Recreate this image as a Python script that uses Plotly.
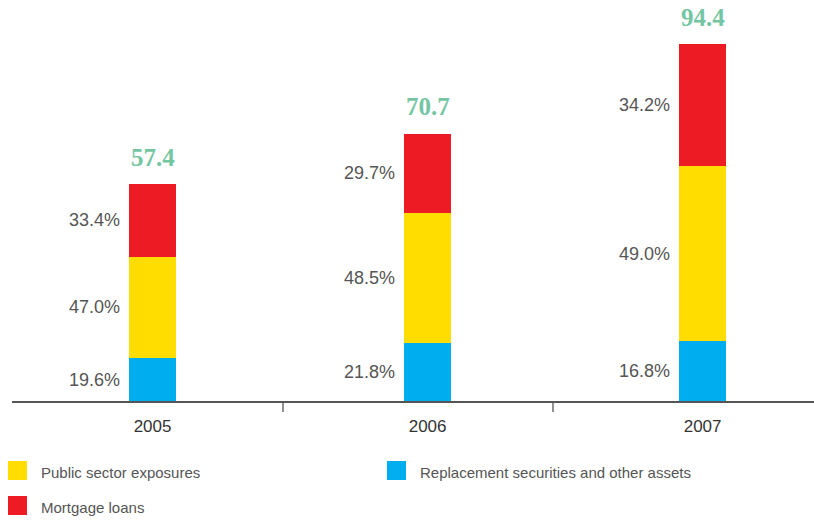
import plotly.graph_objects as go

# Cover pool composition by year (EUR bn totals, shares in %)
years = ["2005", "2006", "2007"]
totals = [57.4, 70.7, 94.4]
share_replacement = [19.6, 21.8, 16.8]
share_public = [47.0, 48.5, 49.0]
share_mortgage = [33.4, 29.7, 34.2]

series = [
    ("Replacement securities and other assets", share_replacement, "#00AEEF"),
    ("Public sector exposures", share_public, "#FFDD00"),
    ("Mortgage loans", share_mortgage, "#ED1C24"),
]

TEXT = "#555555"
SANS = "Liberation Sans, Arial, sans-serif"
BAR_W = 0.171

fig = go.Figure()
xs = list(range(len(years)))
for name, shares, color in series:
    vals = [t * s / 100 for t, s in zip(totals, shares)]
    fig.add_trace(go.Bar(
        x=xs, y=vals, name=name, width=BAR_W,
        marker=dict(color=color, line=dict(width=0)),
        showlegend=False,
    ))

annotations = []
# percentage labels to the left of each segment
for i, t in enumerate(totals):
    base = 0.0
    for name, shares, color in series:
        v = t * shares[i] / 100
        annotations.append(dict(
            x=i, y=base + v / 2, xref="x", yref="y",
            text=f"{shares[i]:.1f}%", showarrow=False,
            xanchor="right", yanchor="middle", xshift=-31,
            font=dict(family=SANS, size=18, color=TEXT),
        ))
        base += v
    # total above the bar
    annotations.append(dict(
        x=i, y=t, xref="x", yref="y", text=f"<b>{t:.1f}</b>",
        showarrow=False, xanchor="center", yanchor="middle", yshift=27,
        font=dict(family="Liberation Serif, DejaVu Serif, serif", size=25,
                  color="#74C6A3"),
    ))

# legend drawn as swatches and labels
legend_items = [
    ("Public sector exposures", "#FFDD00", 8, 461),
    ("Replacement securities and other assets", "#00AEEF", 387, 461),
    ("Mortgage loans", "#ED1C24", 8, 496),
]
W, H = 814, 524
shapes = []
for label, color, px, py in legend_items:
    shapes.append(dict(
        type="rect", xref="paper", yref="paper",
        x0=(px - 12) / 802, x1=(px + 19 - 12) / 802,
        y0=-(py + 19 - 401) / 378, y1=-(py - 401) / 378,
        fillcolor=color, line=dict(width=0),
    ))
    annotations.append(dict(
        x=(px + 31 - 12) / 802, y=-(py + 11 - 401) / 378,
        xref="paper", yref="paper", text=label, showarrow=False,
        xanchor="left", yanchor="middle",
        font=dict(family=SANS, size=15, color=TEXT),
    ))

# category divider ticks under the baseline
for px in (283, 553):
    shapes.append(dict(
        type="line", xref="paper", yref="paper",
        x0=(px - 12) / 802, x1=(px - 12) / 802,
        y0=0, y1=-11 / 378,
        line=dict(color=TEXT, width=1.3),
    ))

fig.update_layout(
    width=W, height=H,
    margin=dict(l=12, r=0, t=23, b=123),
    barmode="stack",
    plot_bgcolor="white", paper_bgcolor="white",
    annotations=annotations, shapes=shapes,
    xaxis=dict(
        range=[-0.511, 2.405], tickmode="array", tickvals=xs, ticktext=years,
        showline=True, linecolor=TEXT, linewidth=1.5, showgrid=False,
        zeroline=False, ticks="", ticklabelstandoff=9,
        tickfont=dict(family=SANS, size=17, color="#333333"),
        fixedrange=True,
    ),
    yaxis=dict(range=[0, 100], visible=False, fixedrange=True),
)

fig.write_html("out.html")
